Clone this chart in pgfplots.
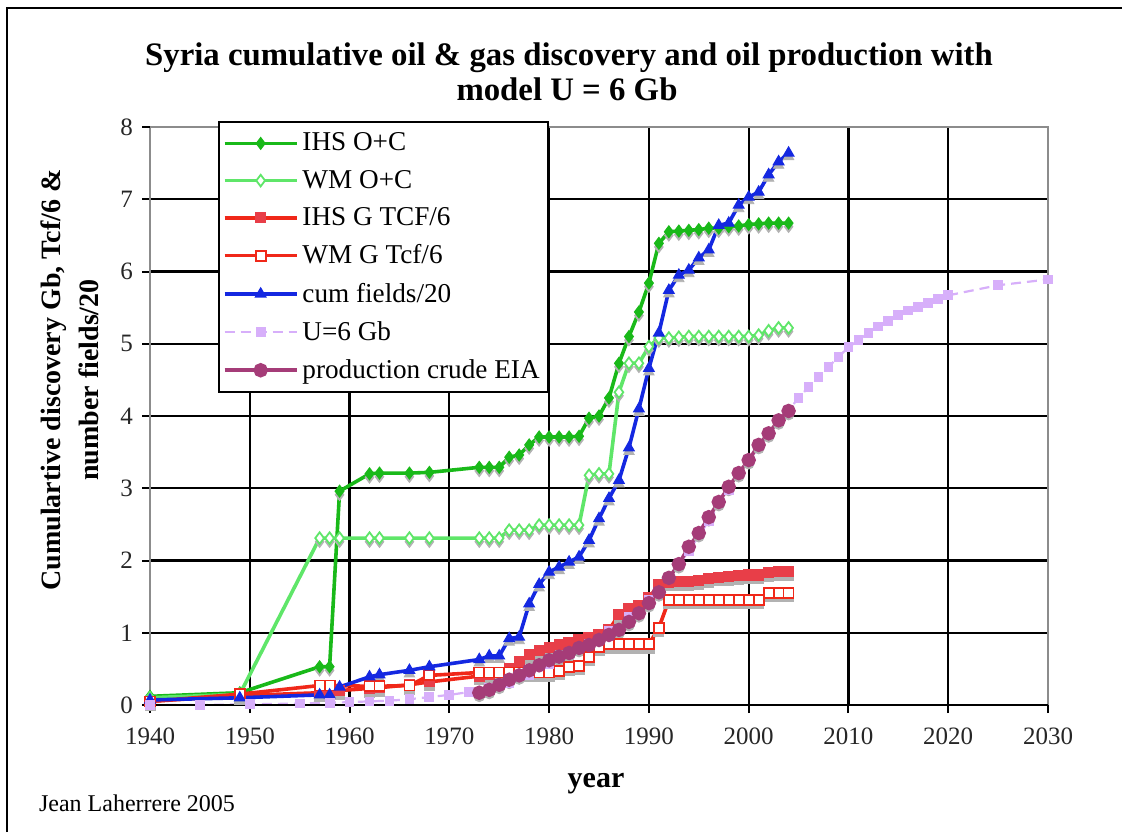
\documentclass[border=0pt]{standalone}
\usepackage{pgfplots}
\pgfplotsset{compat=1.18}
\usepackage{pgfplotstable}
\usepackage{fontspec}
\setmainfont{Liberation Serif}
\definecolor{ihsoc}{RGB}{25,185,25}
\definecolor{wmoc}{RGB}{95,230,105}
\definecolor{gline}{RGB}{240,40,25}
\definecolor{gfill}{RGB}{232,62,72}
\definecolor{cumf}{RGB}{20,40,225}
\definecolor{uviol}{RGB}{215,175,250}
\definecolor{prod}{RGB}{165,60,120}

\pgfplotstableread{
x y
1940 0.12
1949 0.17
1957 0.53
1958 0.53
1959 2.96
1962 3.20
1963 3.21
1966 3.21
1968 3.22
1973 3.29
1974 3.29
1975 3.29
1976 3.43
1977 3.46
1978 3.60
1979 3.71
1980 3.71
1981 3.71
1982 3.71
1983 3.72
1984 3.97
1985 4.00
1986 4.25
1987 4.73
1988 5.10
1989 5.44
1990 5.84
1991 6.39
1992 6.55
1993 6.56
1994 6.57
1995 6.58
1996 6.60
1997 6.60
1998 6.62
1999 6.63
2000 6.65
2001 6.66
2002 6.67
2003 6.67
2004 6.67
}\ihsoc

\pgfplotstableread{
x y
1940 0.10
1949 0.15
1957 2.31
1958 2.31
1959 2.31
1962 2.31
1963 2.31
1966 2.31
1968 2.31
1973 2.31
1974 2.31
1975 2.31
1976 2.42
1977 2.42
1978 2.42
1979 2.49
1980 2.49
1981 2.49
1982 2.49
1983 2.49
1984 3.18
1985 3.20
1986 3.20
1987 4.33
1988 4.73
1989 4.73
1990 4.96
1991 5.08
1992 5.08
1993 5.09
1994 5.10
1995 5.10
1996 5.10
1997 5.10
1998 5.10
1999 5.10
2000 5.10
2001 5.12
2002 5.18
2003 5.22
2004 5.22
}\wmoc

\pgfplotstableread{
x y
1940 0.05
1949 0.13
1957 0.17
1958 0.17
1959 0.20
1962 0.23
1963 0.24
1966 0.28
1968 0.32
1973 0.40
1974 0.42
1975 0.45
1976 0.50
1977 0.60
1978 0.70
1979 0.75
1980 0.80
1981 0.84
1982 0.87
1983 0.90
1984 0.93
1985 0.97
1986 1.04
1987 1.25
1988 1.34
1989 1.38
1990 1.48
1991 1.67
1992 1.70
1993 1.71
1994 1.71
1995 1.72
1996 1.75
1997 1.77
1998 1.78
1999 1.79
2000 1.80
2001 1.80
2002 1.83
2003 1.85
2004 1.85
}\ihsg

\pgfplotstableread{
x y
1940 0.05
1949 0.15
1957 0.27
1958 0.27
1962 0.26
1963 0.26
1966 0.27
1968 0.41
1973 0.45
1974 0.45
1975 0.45
1976 0.45
1977 0.45
1978 0.45
1979 0.45
1980 0.45
1981 0.47
1982 0.53
1983 0.54
1984 0.67
1985 0.80
1986 0.84
1987 0.84
1988 0.84
1989 0.84
1990 0.84
1991 1.07
1992 1.45
1993 1.45
1994 1.45
1995 1.45
1996 1.45
1997 1.45
1998 1.45
1999 1.45
2000 1.45
2001 1.45
2002 1.55
2003 1.55
2004 1.55
}\wmg

\pgfplotstableread{
x y
1940 0.07
1949 0.10
1957 0.14
1958 0.14
1959 0.25
1962 0.39
1963 0.42
1966 0.48
1968 0.53
1973 0.63
1974 0.68
1975 0.68
1976 0.92
1977 0.94
1978 1.40
1979 1.67
1980 1.84
1981 1.91
1982 1.98
1983 2.05
1984 2.28
1985 2.58
1986 2.86
1987 3.11
1988 3.56
1989 4.10
1990 4.66
1991 5.15
1992 5.74
1993 5.95
1994 6.02
1995 6.19
1996 6.30
1997 6.64
1998 6.67
1999 6.92
2000 7.03
2001 7.10
2002 7.34
2003 7.52
2004 7.64
}\cumf

\pgfplotstableread{
x y
1940 0.00
1945 0.00
1950 0.01
1955 0.02
1958 0.03
1960 0.04
1962 0.05
1964 0.06
1966 0.08
1968 0.11
1970 0.14
1972 0.18
1974 0.23
1976 0.31
1978 0.42
1980 0.56
1982 0.70
1984 0.85
1986 1.02
1988 1.22
1990 1.46
1992 1.76
1994 2.13
1996 2.55
1998 2.98
2000 3.38
2002 3.75
2004 4.08
2005 4.25
2006 4.40
2007 4.54
2008 4.68
2009 4.82
2010 4.95
2011 5.05
2012 5.15
2013 5.24
2014 5.31
2015 5.40
2016 5.46
2017 5.51
2018 5.56
2019 5.62
2020 5.67
2025 5.81
2030 5.89
}\umodel

\pgfplotstableread{
x y
1973 0.17
1974 0.21
1975 0.28
1976 0.35
1977 0.41
1978 0.48
1979 0.55
1980 0.62
1981 0.67
1982 0.72
1983 0.79
1984 0.83
1985 0.90
1986 0.97
1987 1.04
1988 1.15
1989 1.27
1990 1.41
1991 1.56
1992 1.76
1993 1.95
1994 2.19
1995 2.38
1996 2.60
1997 2.81
1998 3.02
1999 3.21
2000 3.39
2001 3.60
2002 3.76
2003 3.94
2004 4.07
}\prodeia

\begin{document}
\begin{tikzpicture}
\path[use as bounding box] (0,0) rectangle (561pt,416pt);
\draw[line width=0.8pt] (3.5pt,0) -- (3.5pt,412pt) -- (561pt,412pt);
\begin{axis}[
  at={(75pt,63.5pt)}, anchor=south west,
  scale only axis, width=449pt, height=289pt,
  xmin=1940, xmax=2030, ymin=0, ymax=8,
  xtick={1940,1950,...,2020}, extra x ticks={2030},
  ytick={0,1,...,7}, extra y ticks={8},
  extra tick style={grid=none},
  grid=major, grid style={black, line width=1.1pt},
  axis line style={black!45, line width=0.6pt},
  tick align=outside, major tick length=4pt,
  tick style={black, line width=1pt},
  xtick pos=bottom, ytick pos=left,
  /pgf/number format/1000 sep={},
  /pgf/number format/assume math mode=true,
  ticklabel style={font=\fontsize{12.5}{13}\selectfont, text=black!85},
  x tick label style={yshift=-4pt},
  y tick label style={xshift=-1pt},
  legend style={at={(0.0757,1.0104)}, anchor=north west, draw=black,
    line width=0.9pt, fill=white, font=\fontsize{13.6}{15}\selectfont,
    row sep=4.1pt, inner xsep=2pt, inner ysep=3.5pt,
    cells={anchor=west}},
  legend cell align=left,
  legend image code/.code={\draw[mark repeat=2,mark phase=2] plot coordinates {(0pt,0pt) (18pt,0pt) (36pt,0pt)};},
]
% shadows
\addplot[forget plot, only marks, mark=diamond*, mark size=2.9pt, color=black!30, yshift=-1.8pt] table {\ihsoc};
\addplot[forget plot, only marks, mark=diamond*, mark size=2.9pt, color=black!30, yshift=-1.8pt] table {\wmoc};
\addplot[forget plot, only marks, mark=square*, mark size=2.5pt, color=black!30, yshift=-1.8pt] table {\ihsg};
\addplot[forget plot, only marks, mark=square*, mark size=2.5pt, color=black!30, yshift=-1.8pt] table {\wmg};
\addplot[forget plot, only marks, mark=triangle*, mark size=3pt, color=black!30, yshift=-1.8pt] table {\cumf};
\addplot[forget plot, only marks, mark=*, mark size=2.7pt, color=black!30, yshift=-1.8pt] table {\prodeia};
% series
\addplot[color=ihsoc, line width=1.8pt, mark=diamond*, mark size=2.9pt, mark options={fill=ihsoc, line width=0.6pt}] table {\ihsoc};
\addlegendentry{IHS O+C}
\addplot[color=wmoc, line width=1.8pt, mark=diamond*, mark size=2.9pt, mark options={fill=white, line width=0.9pt}] table {\wmoc};
\addlegendentry{WM O+C}
\addplot[color=gline, line width=1.8pt, mark=square*, mark size=2.5pt, mark options={draw=gfill, fill=gfill, line width=0.6pt}] table {\ihsg};
\addlegendentry{IHS G TCF/6}
\addplot[color=gline, line width=1.8pt, mark=square*, mark size=2.5pt, mark options={fill=white, line width=0.9pt}] table {\wmg};
\addlegendentry{WM G Tcf/6}
\addplot[color=cumf, line width=1.8pt, mark=triangle*, mark size=3pt, mark options={fill=cumf, line width=0.6pt}] table {\cumf};
\addlegendentry{cum fields/20}
\addplot[color=uviol, line width=1.1pt, dash pattern=on 5pt off 3pt, mark=square*, mark size=1.9pt, mark options={solid, fill=uviol}] table {\umodel};
\addlegendentry{U=6 Gb}
\addplot[color=prod, line width=1.8pt, mark=*, mark size=2.7pt, mark options={fill=prod}] table {\prodeia};
\addlegendentry{production crude EIA}
\draw[black, line width=1.3pt] (rel axis cs:0,0) -- (rel axis cs:1,0);
\end{axis}
\node[anchor=base, font=\fontsize{16.4}{18}\selectfont\bfseries] at (284.5pt,383pt) {Syria cumulative oil \& gas discovery and oil production with};
\node[anchor=base, font=\fontsize{16.4}{18}\selectfont\bfseries] at (283.5pt,366pt) {model U = 6 Gb};
\node[rotate=90, align=center, font=\fontsize{14}{19}\selectfont\bfseries] at (35pt,226pt) {Cumulartive discovery Gb, Tcf/6 \&\\number fields/20};
\node[font=\fontsize{15}{17}\selectfont\bfseries] at (298pt,24pt) {year};
\node[anchor=west, font=\fontsize{12}{14}\selectfont] at (16pt,14.5pt) {Jean Laherrere 2005};
\end{tikzpicture}
\end{document}
